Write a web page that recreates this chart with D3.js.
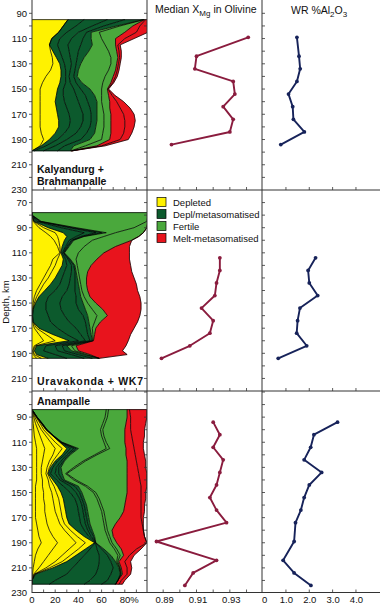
<!DOCTYPE html>
<html><head><meta charset="utf-8">
<script src="https://cdn.jsdelivr.net/npm/d3@7"></script>
<style>
html,body{margin:0;padding:0;background:#fff;}
svg{display:block;font-family:"Liberation Sans",Arial,Helvetica,sans-serif;}
</style></head><body>
<svg id="c" width="380" height="604"></svg>
<script>
// ---------- Row 1: Kalyandurg + Brahmanpalle (cumulative % boundaries) ----------
const kDepth = [95,100,105,110,115,120,125,130,135,140,145,150,155,160,165,170,175,180,185,190,195,199];
const kDepA  = [31,27,23,17,15,16,17.5,18,16,12,9,7,7,7,7,7,7,7,8,10,7,0];
const kDep   = [31,27,23,17,15,18,21,24,25,25,24,22,21,20,21,22,23,23,20,15,8,0];
const kDmA   = [45,38,30,24,22,24,26,28,29,29,29,27,27,28,30,32,33,32,28,22,12,2];
const kDmB   = [65,52,40,34,31,32,33,34,33,32,33,36,38,40,42,44,44,42,38,30,20,10];
const kDmC   = [80,62,47,44,42,40,39,38,37,36,38,42,46,48,50,51,51,50,47,42,28,22];
const kDm    = [96,73,51,51,52,49,45,42,40,39,43,50,54,56,56,56,56,55,54,50,36,33];
const kFerA  = [96.5,76,58,60,63,66,68,68,66,63,61,60,60,60,61,62,62,62,61,60,46,33.5];
const kFer   = [97,87,80,72,72,73,74,73,72,70,68,65,66,67,67,68,68,68,68,67,56,34];
const kMeltA = [98,93,90,80,74,75,75.5,74.5,73.5,72,69.5,65.5,69,73,76,79,80,80,79,76,60,34.2];
const kMelt  = [100,100,100,88,76,77,77,76,75,73.5,70.5,66,71.5,79,84.5,88,89,88,86,83,63,34.5];
const kLineDepth = [109,124,134,144,154,164,174,184,194];
const kXmg = [0.941,0.910,0.909,0.932,0.933,0.926,0.932,0.930,0.895];
const kAl  = [1.47,1.56,1.61,1.47,1.11,1.29,1.32,1.79,0.78];

// ---------- Row 2: Uravakonda + WK7 ----------
const uDepth = [78,80,85,90,94,97,100,105,110,115,120,125,130,135,140,145,150,155,160,165,170,175,180,184,188,191,194];
const uDepB  = [0,0,1,6,12,16,19,22,24,18,16,13,10,7,4,2,1,0.5,0.3,0.5,2,6,10,2,0.5,1,4];
const uDepA  = [0,0,1.5,10,20,22,23,24,24.5,22,20,17,14,10,7,4,2,0.8,0.4,0.8,4,12,20,3,1,2,8];
const uDep   = [0,0,2,14,27,30,28,26,25,27,26,23,20,16,11,6,3,1,0.5,1,6,18,32,4,2,4,14];
const uDmA   = [0,0,4,25,45,38,32,29,26,29,30,28,26,24,20,14,12,12,14,16,22,30,40,12,10,20,30];
const uDmB   = [0,0,6,32,55,42,34,30,27,31,34,34,33,32,30,26,24,25,28,32,38,42,46,20,22,34,45];
const uDmC   = [0,0,7,35,60,44,35,31,27.5,32,36,37,37,37,37,38,38,40,44,46,47,48,50,26,28,40,52];
const uDm    = [0,0,8,38,64,45,36,32,28,33,37,38,39,40,41,42,44,46,48,49,50,51,52,30,34,45,58];
const uFerA  = [100,100,99,88,72,62,52,45,40,38,39,40,41,42,43,45,48,52,56,54,52,52.5,52.5,34,37,47,58];
const uFer   = [100,100,100,99,96,92,86,72,62,56,51,48,47,47,48,50,55,61,65,59,55,54,53,38,40,50,58];
const uMelt  = [100,100,100,99,96,92,86,84,84,84,85,86,88,90,91,93,94,94,93,91,88,85,83,81,78,82,58];
const uLineDepth = [114,124,134,144,154,164,174,184,194];
const uXmg = [0.924,0.924,0.922,0.921,0.913,0.920,0.918,0.906,0.889];
const uAl  = [2.27,1.95,2.00,2.36,1.60,1.50,1.46,1.89,0.67];

// ---------- Row 3: Anampalle ----------
const aDepth = [84,90,95,100,105,110,115,120,125,130,135,140,145,150,155,160,165,170,175,180,185,190,195,200,205,210,215,220,223];
const aDepA  = [0,0.5,1,1.5,2,3,4,4,4,4,4,4,3,3,3,3,3,3,4,5,6,8,5,3,2,1,0.5,0,0];
const aDepB  = [0,1.5,3,5,7,9,11,10,9,8,8,9,9,10,10,11,11,12,13,15,18,22,18,14,10,6,1.5,0,0];
const aDepC  = [0,2.5,5,8,12,16,20,18,15,13,12,14,15,17,18,19,20,22,24,28,33,38,32,26,20,12,2,0,0];
const aDepD  = [0,3.5,7,10,15,20,26,22,18,15,13.5,16,19,21,23,24,25,26,28,33,39,46,40,33,26,15,2.5,0,0];
const aDep   = [0,4,8,12,18,24,30,26,20,16,14,18,22,25,27,28,29,30,32,38,45,54,46,38,30,18,3,0,0];
const aDmA   = [0,4.2,8.3,12.3,18.3,24.5,33,28,22,18,16,21,27,33,37,39,40,41,42,45,49,54.5,50,45,40,35,30,20,15];
const aDmB   = [0,4.3,8.6,12.6,18.6,25,36,30,25,21,20,24,33,38,41,43,44,45,46,48,51,54.8,56,58,58,57,55,50,45];
const aDmC   = [0,4.4,8.8,12.8,18.8,25.5,38,31.5,27,23,23,26,37,41,43,45,46,47,48,50,53,54.9,60,65,68,70,68,65,60];
const aDm    = [0,4.5,9,13,19,26,40,33,28,25,26,28,40,43,45,47,48,49,50,52,54,55,62,68,72,75,76,74,72];
const aFerB  = [64,63,61,59,60,62,64,54,44,36,29,36,46,53,56,58,60,61,62,63,65,67,71,74,73,75.5,76.5,74,72];
const aFerA  = [66,65,63,61,62,64,67,56,46,38,30,38,48,55,58,60,62,63,64,65,67,69,73,76,74,76,77,74,72];
const aFer   = [82,82,81,80,80,80,81,81,82,82,82,82,82,82,81,80,79,76,72,69,70,73,77,79,75,77,78,74,72];
const aMeltA = [84,85,85,85,86,87,88,89,90,91,92,93,94,94,94,94,94,94,95,96,97,99,90,84,80,82,82,77,75];
const aMelt  = [99,99,98,97,97,96,96,97,98,98,99,99,99,98,98,97,97,96,96,96,97,99,94,88,85,86,85,80,78];
const aLineDepth = [94,104,114,124,134,144,154,164,174,189,204,214,224];
const aXmg = [0.920,0.924,0.920,0.926,0.924,0.922,0.918,0.922,0.928,0.886,0.922,0.908,0.903];
const aAl  = [3.21,2.20,2.06,1.78,2.53,2.00,1.78,1.64,1.41,1.35,0.88,1.35,2.07];

// ---------- labels ----------
const classNames = ["Depleted","Depl/metasomatised","Fertile","Melt-metasomatised"];
const classKeys  = ["dep","dm","fer","melt"];
const pctTicks = [0,20,40,60,80];
const xmgTicks = [0.89,0.91,0.93];
const alTicks  = [0,1,2,3,4];

// ---------- drawing ----------
const COL = {dep:'#fff200', dm:'#0c5a2d', fer:'#4aa83c', melt:'#e8141d'};
const XMG_C = '#8a1c3e', AL_C = '#17235a';
const svg = d3.select('#c');
const x1 = d3.scaleLinear([0,100],[32,148]);
const x2 = d3.scaleLinear([0.88,0.95],[146.5,263.2]);
const x3 = d3.scaleLinear([0,5],[262.6,379.3]);

const rows = [
  {ys:d3.scaleLinear([80,230],[0.7,190]), top:0, bot:190, ticks:d3.range(80,231,10), labels:d3.range(90,231,20),
   depth:kDepth, bounds:[[kDepA,'dep'],[kDep,'dep'],[kDmA,'dm'],[kDmB,'dm'],[kDmC,'dm'],[kDm,'dm'],[kFerA,'fer'],[kFer,'fer'],[kMeltA,'melt'],[kMelt,'melt']],
   lD:kLineDepth, xmg:kXmg, al:kAl},
  {ys:d3.scaleLinear([60,220],[190,391]), top:190, bot:391, ticks:d3.range(60,221,10), labels:d3.range(70,211,20),
   depth:uDepth, bounds:[[uDepB,'dep'],[uDepA,'dep'],[uDep,'dep'],[uDmA,'dm'],[uDmB,'dm'],[uDmC,'dm'],[uDm,'dm'],[uFerA,'fer'],[uFer,'fer'],[uMelt,'melt']],
   lD:uLineDepth, xmg:uXmg, al:uAl},
  {ys:d3.scaleLinear([70,230],[392,593]), top:391, bot:592.5, ticks:d3.range(70,231,10), labels:d3.range(90,231,20),
   depth:aDepth, bounds:[[aDepA,'dep'],[aDepB,'dep'],[aDepC,'dep'],[aDepD,'dep'],[aDep,'dep'],[aDmA,'dm'],[aDmB,'dm'],[aDmC,'dm'],[aDm,'dm'],[aFerB,'fer'],[aFerA,'fer'],[aFer,'fer'],[aMeltA,'melt'],[aMelt,'melt']],
   lD:aLineDepth, xmg:aXmg, al:aAl}
];

const defs = svg.append('defs');
rows.forEach((r,ri)=>{
  defs.append('clipPath').attr('id','cp'+ri).append('rect')
    .attr('x',32).attr('y',r.top).attr('width',115).attr('height',r.bot-r.top);
  defs.append('clipPath').attr('id','cl'+ri).append('rect')
    .attr('x',147).attr('y',r.top).attr('width',233).attr('height',r.bot-r.top);
});

rows.forEach((r,ri)=>{
  const g = svg.append('g').attr('clip-path',`url(#cp${ri})`);
  const idx = r.depth.map((d,i)=>i);
  let prev = null;
  r.bounds.forEach(([b,cls])=>{
    const p = prev;
    const area = d3.area()
      .y(i=>r.ys(r.depth[i]))
      .x0(i=>x1(p? p[i] : 0))
      .x1(i=>x1(b[i]));
    g.append('path').datum(idx).attr('d',area).attr('fill',COL[cls]).attr('stroke',COL[cls]).attr('stroke-width',0.3);
    prev = b;
  });
  // boundary lines
  r.bounds.forEach(([b])=>{
    const line = d3.line().x(i=>x1(b[i])).y(i=>r.ys(r.depth[i]));
    g.append('path').datum(idx).attr('d',line).attr('fill','none').attr('stroke','#000').attr('stroke-width',0.75);
  });
  // top & bottom edges
  const last = r.bounds[r.bounds.length-1][0];
  [0, idx.length-1].forEach(i=>{
    g.append('line').attr('x1',x1(0)).attr('x2',x1(last[i]))
      .attr('y1',r.ys(r.depth[i])).attr('y2',r.ys(r.depth[i]))
      .attr('stroke','#000').attr('stroke-width',0.75);
  });

  // line panels
  const gl = svg.append('g').attr('clip-path',`url(#cl${ri})`);
  const li = r.lD.map((d,i)=>i);
  const lx = d3.line().x(i=>x2(r.xmg[i])).y(i=>r.ys(r.lD[i]));
  gl.append('path').datum(li).attr('d',lx).attr('fill','none').attr('stroke',XMG_C).attr('stroke-width',1.9).attr('stroke-linejoin','round');
  gl.selectAll(null).data(li).enter().append('circle')
    .attr('cx',i=>x2(r.xmg[i])).attr('cy',i=>r.ys(r.lD[i])).attr('r',1.9).attr('fill',XMG_C);
  const la = d3.line().x(i=>x3(r.al[i])).y(i=>r.ys(r.lD[i]));
  gl.append('path').datum(li).attr('d',la).attr('fill','none').attr('stroke',AL_C).attr('stroke-width',1.9).attr('stroke-linejoin','round');
  gl.selectAll(null).data(li).enter().append('circle')
    .attr('cx',i=>x3(r.al[i])).attr('cy',i=>r.ys(r.lD[i])).attr('r',1.9).attr('fill',AL_C);

  // depth ticks
  const ax = svg.append('g').attr('stroke','#333').attr('stroke-width',0.8);
  r.ticks.forEach(t=>{
    const y = r.ys(t);
    if (y < r.top+1 || y > r.bot-1) return;
    ax.append('line').attr('x1',29).attr('x2',32).attr('y1',y).attr('y2',y);
    ax.append('line').attr('x1',144).attr('x2',147).attr('y1',y).attr('y2',y);
    ax.append('line').attr('x1',262).attr('x2',265).attr('y1',y).attr('y2',y);
  });
  // depth labels
  svg.append('g').selectAll(null).data(r.labels).enter().append('text')
    .attr('x',27).attr('y',d=>r.ys(d)).attr('dy','0.35em').attr('text-anchor','end')
    .attr('font-size',9.5).attr('fill','#111').text(d=>d);
  // x ticks (pointing up)
  const tk = svg.append('g').attr('stroke','#333').attr('stroke-width',0.8);
  d3.range(10,100,10).forEach(v=>tk.append('line').attr('x1',x1(v)).attr('x2',x1(v)).attr('y1',r.bot).attr('y2',r.bot-3));
  [0.89,0.90,0.91,0.92,0.93,0.94].forEach(v=>tk.append('line').attr('x1',x2(v)).attr('x2',x2(v)).attr('y1',r.bot).attr('y2',r.bot-3));
  [1,2,3,4].forEach(v=>tk.append('line').attr('x1',x3(v)).attr('x2',x3(v)).attr('y1',r.bot).attr('y2',r.bot-3));
});

// frame lines
const fr = svg.append('g').attr('stroke','#333').attr('stroke-width',1);
[32,147,262].forEach(x=>fr.append('line').attr('x1',x).attr('x2',x).attr('y1',0).attr('y2',593));
[190,391,592.5].forEach(y=>fr.append('line').attr('x1',32).attr('x2',380).attr('y1',y).attr('y2',y));

// bottom tick labels
const bl = svg.append('g').attr('font-size',9.5).attr('fill','#111').attr('text-anchor','middle');
pctTicks.forEach(v=>bl.append('text').attr('x',x1(v)+(v===80?4.5:0)).attr('y',603).text(v===80?'80%':v));
xmgTicks.forEach(v=>bl.append('text').attr('x',x2(v)+1.5).attr('y',603).text(v.toFixed(2)));
alTicks.forEach(v=>bl.append('text').attr('x',x3(v)+(v===0?2:0.5)).attr('y',603).text(v===0?'0':v.toFixed(1)));

// headers
const h1 = svg.append('text').attr('x',155).attr('y',13).attr('font-size',10.5).attr('fill','#111');
h1.append('tspan').text('Median X');
h1.append('tspan').attr('font-size',8).attr('dy',3).text('Mg');
h1.append('tspan').attr('dy',-3).text(' in Olivine');
const h2 = svg.append('text').attr('x',291).attr('y',13.5).attr('font-size',10.5).attr('fill','#111');
h2.append('tspan').text('WR %Al');
h2.append('tspan').attr('font-size',8).attr('dy',3).text('2');
h2.append('tspan').attr('dy',-3).text('O');
h2.append('tspan').attr('font-size',8).attr('dy',3).text('3');

// y title
svg.append('text').attr('transform','translate(8.5,302) rotate(-90)').attr('text-anchor','middle')
  .attr('font-size',9.5).attr('fill','#111').text('Depth, km');

// row labels
const rl = svg.append('g').attr('font-size',10.5).attr('font-weight','bold').attr('fill','#111');
rl.append('text').attr('x',37).attr('y',173).text('Kalyandurg +');
rl.append('text').attr('x',37).attr('y',184.5).text('Brahmanpalle');
rl.append('text').attr('x',37).attr('y',385).attr('textLength',106).attr('lengthAdjust','spacing').text('Uravakonda + WK7');
rl.append('text').attr('x',37).attr('y',405).text('Anampalle');

// legend
const lg = svg.append('g');
classKeys.forEach((k,i)=>{
  const cy = 202 + i*12;
  lg.append('rect').attr('x',157).attr('y',cy-4.5).attr('width',9).attr('height',9)
    .attr('fill',COL[k]).attr('stroke','#000').attr('stroke-width',0.7);
  lg.append('text').attr('x',173).attr('y',cy+3.5).attr('font-size',9.5).attr('fill','#111').text(classNames[i]);
});
</script>
</body></html>
